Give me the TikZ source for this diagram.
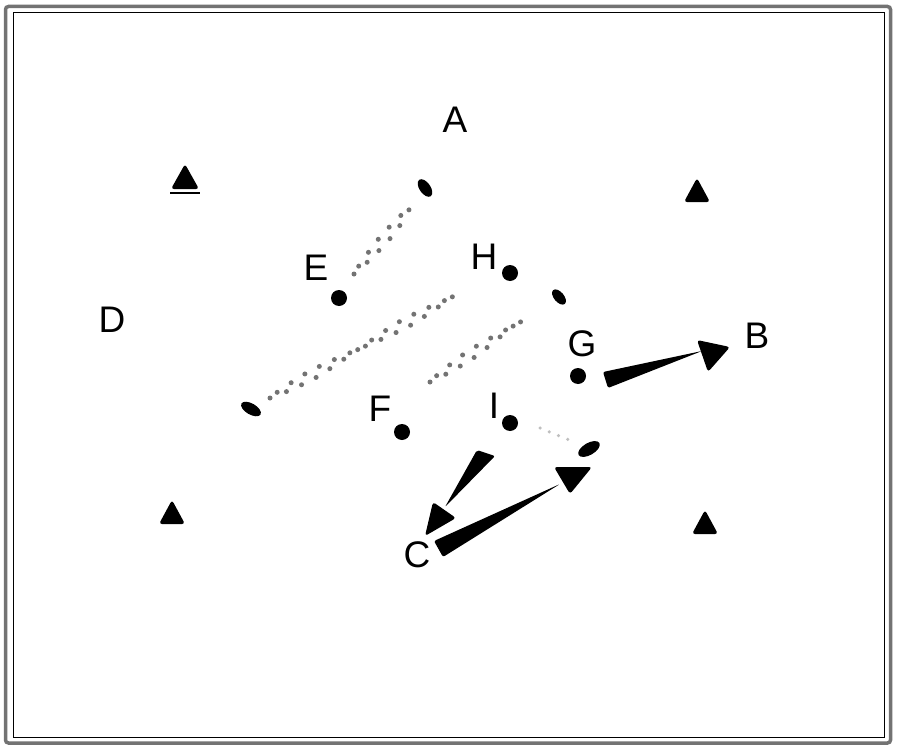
\documentclass[tikz,border=0pt]{standalone}
\usepackage{fontspec}
\setmainfont{Liberation Sans}
\usetikzlibrary{decorations.pathmorphing,calc}
\begin{document}
\begin{tikzpicture}[x=1pt,y=-1pt,
  lbl/.style={inner sep=0pt, font=\fontsize{37}{37}\selectfont},
  player/.style={circle, fill=black, minimum size=16pt, inner sep=0pt},
  cone/.style={fill=black, rounded corners=3pt},
  ball/.style={fill=black},
  dribble/.style={black!55, line width=5pt, line cap=round, dash pattern=on 0pt off 12pt,
    decorate, decoration={snake, amplitude=4.5pt, segment length=18pt}},
  faint/.style={black!25, line width=3.5pt, line cap=round, dash pattern=on 0pt off 10pt},
  wedge/.style={fill=black, rounded corners=2pt},
  head/.style={fill=black, rounded corners=3pt}]
\useasboundingbox (0,0) rectangle (900,752);
\fill[white] (0,0) rectangle (900,752);
% frame
\draw[black!55, line width=3.5pt, rounded corners=3pt] (5.5,6.5) rectangle (890.5,743);
\draw[black, line width=1pt] (13,13) rectangle (884,737);
% labels
\node[lbl] (A) at (455,120) {A};
\node[lbl] (B) at (757,336) {B};
\node[lbl] (C) at (417,555) {C};
\node[lbl] (D) at (112,320) {D};
\node[lbl] (E) at (316,268) {E};
\node[lbl] (F) at (380,409) {F};
\node[lbl] (G) at (582,344) {G};
\node[lbl] (H) at (484,257) {H};
\node[lbl] (I) at (494,406) {I};
% players
\node[player] (pE) at (339,298) {};
\node[player] (pH) at (510,273) {};
\node[player] (pG) at (578,376) {};
\node[player] (pF) at (402,432) {};
\node[player] (pI) at (510,423) {};
% cones
\fill[cone] (171,189) -- (185,164) -- (199,189) -- cycle;
\draw[black, line width=1.5pt] (170,193) -- (200,193);
\fill[cone] (684,202) -- (697,178) -- (710,202) -- cycle;
\fill[cone] (159,524) -- (172,500) -- (185,524) -- cycle;
\fill[cone] (692,534) -- (705,510) -- (718,534) -- cycle;
% dribble paths
\coordinate (d1a) at (354,274); \coordinate (d1b) at (414,204);
\coordinate (d2a) at (270,398); \coordinate (d2b) at (460,293);
\coordinate (d3a) at (430,382); \coordinate (d3b) at (525,318);
\coordinate (d4a) at (540,428); \coordinate (d4b) at (574,442);
\draw[dribble] (d1a) -- (d1b);
\draw[dribble] (d2a) -- (d2b);
\draw[dribble] (d3a) -- (d3b);
\draw[faint] (d4a) -- (d4b);
% balls
\fill[ball, rotate around={-55:(425,188)}] (425,188) ellipse (10pt and 5.5pt);
\fill[ball, rotate around={-30:(251,409)}] (251,409) ellipse (11pt and 5.5pt);
\fill[ball, rotate around={-50:(559,297)}] (559,297) ellipse (9pt and 5pt);
\fill[ball, rotate around={30:(589,449)}] (589,449) ellipse (12pt and 6pt);
% passes
\coordinate (g1) at (603,372); \coordinate (g2) at (608,388); \coordinate (gt) at (702,351);
\fill[wedge] (g1) -- (gt) -- (g2) -- cycle;
\fill[head] (697,340) -- (730,347) -- (708,372) -- cycle;
\coordinate (i1) at (477,450); \coordinate (i2) at (495,456); \coordinate (it) at (445,507);
\fill[wedge] (i1) -- (i2) -- (it) -- cycle;
\fill[head] (433,502) -- (456,518) -- (425,536) -- cycle;
\coordinate (c1) at (434,541); \coordinate (c2) at (443,557); \coordinate (ct) at (560,484);
\fill[wedge] (c1) -- (ct) -- (c2) -- cycle;
\fill[head] (554,467) -- (592,467) -- (570,494) -- cycle;
\end{tikzpicture}
\end{document}
